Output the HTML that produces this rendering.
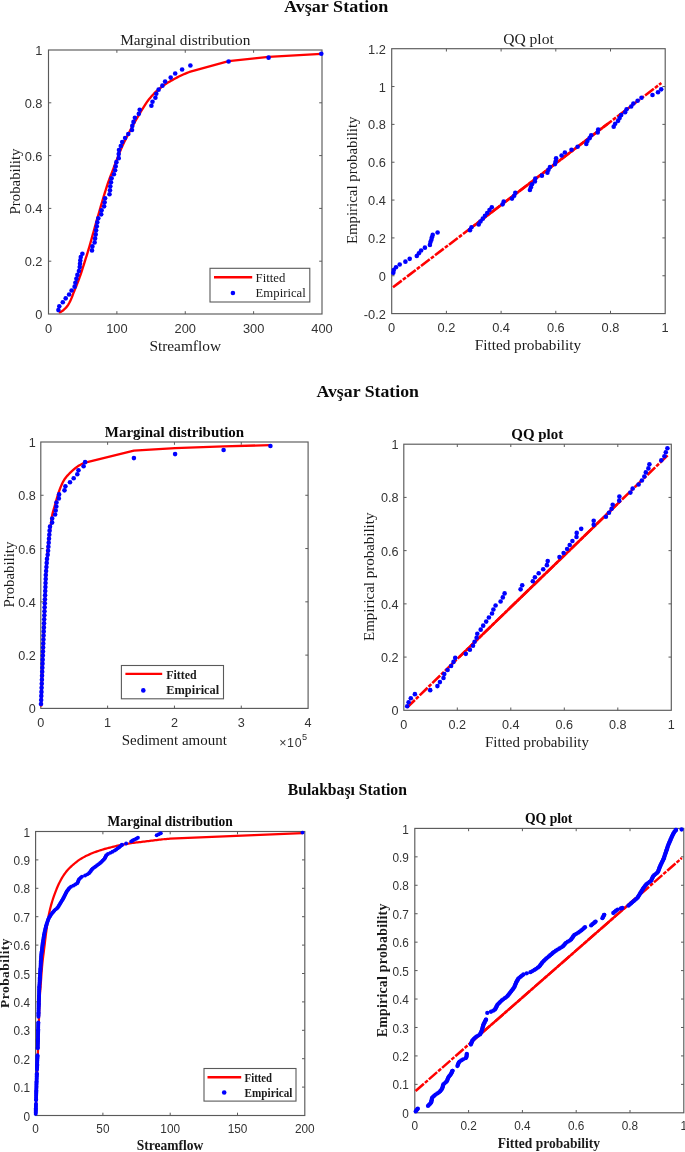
<!DOCTYPE html>
<html lang="tr">
<head>
<meta charset="utf-8">
<title>Marginal distributions and QQ plots – Avşar and Bulakbaşı stations</title>
<style>
html,body{margin:0;padding:0;background:#ffffff;}
body{width:685px;height:1152px;overflow:hidden;font-family:"Liberation Serif",serif;}
svg{display:block;}
text{white-space:pre;}
</style>
</head>
<body>
<svg width="685" height="1152" viewBox="0 0 685 1152">
<rect x="0" y="0" width="685" height="1152" fill="#ffffff"/>
<defs><filter id="soft" x="-2%" y="-2%" width="104%" height="104%" color-interpolation-filters="sRGB"><feGaussianBlur stdDeviation="0.42"/></filter></defs>
<g filter="url(#soft)">
<rect x="48.5" y="50" width="273.5" height="264" fill="#fff" stroke="#5a5a5a" stroke-width="1.15"/>
<text x="48.5" y="332.7" font-family='"Liberation Sans", sans-serif' font-size="12.3" text-anchor="middle" fill="#333333" textLength="7.14" lengthAdjust="spacingAndGlyphs">0</text>
<text x="116.88" y="332.7" font-family='"Liberation Sans", sans-serif' font-size="12.3" text-anchor="middle" fill="#333333" textLength="21.43" lengthAdjust="spacingAndGlyphs">100</text>
<text x="185.25" y="332.7" font-family='"Liberation Sans", sans-serif' font-size="12.3" text-anchor="middle" fill="#333333" textLength="21.43" lengthAdjust="spacingAndGlyphs">200</text>
<text x="253.62" y="332.7" font-family='"Liberation Sans", sans-serif' font-size="12.3" text-anchor="middle" fill="#333333" textLength="21.43" lengthAdjust="spacingAndGlyphs">300</text>
<text x="322" y="332.7" font-family='"Liberation Sans", sans-serif' font-size="12.3" text-anchor="middle" fill="#333333" textLength="21.43" lengthAdjust="spacingAndGlyphs">400</text>
<text x="42.5" y="319" font-family='"Liberation Sans", sans-serif' font-size="12.3" text-anchor="end" fill="#333333" textLength="7.14" lengthAdjust="spacingAndGlyphs">0</text>
<text x="42.5" y="266.2" font-family='"Liberation Sans", sans-serif' font-size="12.3" text-anchor="end" fill="#333333" textLength="17.85" lengthAdjust="spacingAndGlyphs">0.2</text>
<text x="42.5" y="213.4" font-family='"Liberation Sans", sans-serif' font-size="12.3" text-anchor="end" fill="#333333" textLength="17.85" lengthAdjust="spacingAndGlyphs">0.4</text>
<text x="42.5" y="160.6" font-family='"Liberation Sans", sans-serif' font-size="12.3" text-anchor="end" fill="#333333" textLength="17.85" lengthAdjust="spacingAndGlyphs">0.6</text>
<text x="42.5" y="107.8" font-family='"Liberation Sans", sans-serif' font-size="12.3" text-anchor="end" fill="#333333" textLength="17.85" lengthAdjust="spacingAndGlyphs">0.8</text>
<text x="42.5" y="55" font-family='"Liberation Sans", sans-serif' font-size="12.3" text-anchor="end" fill="#333333" textLength="7.14" lengthAdjust="spacingAndGlyphs">1</text>
<path d="M116.88 314v-2.8M116.88 50v2.8M185.25 314v-2.8M185.25 50v2.8M253.62 314v-2.8M253.62 50v2.8M48.5 261.2h2.8M322 261.2h-2.8M48.5 208.4h2.8M322 208.4h-2.8M48.5 155.6h2.8M322 155.6h-2.8M48.5 102.8h2.8M322 102.8h-2.8" stroke="#5a5a5a" stroke-width="1" fill="none"/>
<path d="M59 312.6L60.66 311.87L62.21 310.99L63.63 309.95L64.99 308.74L66.23 307.42L67.32 306.04L68.31 304.56L69.22 303L70.06 301.4L70.83 299.79L71.52 298.15L72.17 296.48L72.79 294.79L73.42 293.11L74.08 291.45L74.76 289.79L75.44 288.14L76.12 286.48L76.78 284.82L77.43 283.15L78.07 281.48L78.7 279.81L79.32 278.13L79.93 276.45L80.53 274.76L81.11 273.07L81.68 271.37L82.23 269.67L82.78 267.97L83.31 266.26L83.85 264.55L84.38 262.84L84.91 261.14L85.45 259.43L85.99 257.72L86.53 256.02L87.06 254.31L87.59 252.6L88.11 250.89L88.63 249.18L89.14 247.46L89.64 245.74L90.13 244.02L90.62 242.3L91.1 240.58L91.59 238.86L92.07 237.14L92.55 235.41L93.03 233.69L93.51 231.97L93.98 230.24L94.46 228.52L94.93 226.79L95.41 225.07L95.89 223.34L96.38 221.62L96.87 219.9L97.36 218.18L97.86 216.46L98.36 214.75L98.86 213.03L99.36 211.31L99.86 209.59L100.36 207.87L100.85 206.15L101.35 204.44L101.85 202.72L102.35 201L102.86 199.28L103.38 197.57L103.9 195.86L104.42 194.15L104.95 192.44L105.47 190.73L106.01 189.02L106.55 187.31L107.11 185.61L107.67 183.91L108.25 182.22L108.84 180.54L109.47 178.86L110.11 177.19L110.77 175.53L111.43 173.86L112.08 172.2L112.72 170.53L113.35 168.85L113.97 167.18L114.6 165.5L115.22 163.82L115.85 162.15L116.49 160.47L117.13 158.81L117.78 157.14L118.42 155.47L119.08 153.8L119.74 152.14L120.42 150.48L121.11 148.84L121.83 147.2L122.57 145.57L123.33 143.95L124.11 142.34L124.89 140.73L125.69 139.13L126.49 137.53L127.3 135.93L128.13 134.35L128.96 132.76L129.8 131.18L130.64 129.6L131.5 128.03L132.36 126.46L133.23 124.9L134.1 123.34L134.97 121.78L135.85 120.22L136.73 118.66L137.63 117.11L138.53 115.56L139.44 114.03L140.36 112.49L141.29 110.97L142.23 109.44L143.18 107.93L144.13 106.41L145.07 104.88L146.04 103.37L147.03 101.89L148.09 100.45L149.19 99.05L150.35 97.67L151.53 96.33L152.73 95L153.96 93.7L155.22 92.43L156.52 91.2L157.86 90.02L159.24 88.87L160.63 87.75L162.04 86.65L163.47 85.56L164.92 84.52L166.42 83.55L167.95 82.62L169.49 81.71L171.03 80.79L172.57 79.89L174.13 79.02L175.71 78.17L177.3 77.35L178.9 76.55L180.51 75.77L182.13 75.01L183.77 74.29L185.41 73.58L187.06 72.9L188.73 72.24L190.4 71.6L228.6 61.2L268.6 56.9L321.3 53.8" fill="none" stroke="#ff0000" stroke-width="2.35" stroke-linejoin="round"/>
<g fill="#0000ff"><circle cx="58.4" cy="310.1" r="2.3"/><circle cx="59.3" cy="306.19" r="2.3"/><circle cx="62.8" cy="302.28" r="2.3"/><circle cx="65.7" cy="298.37" r="2.3"/><circle cx="69.1" cy="294.46" r="2.3"/><circle cx="71.6" cy="290.55" r="2.3"/><circle cx="74.6" cy="286.65" r="2.3"/><circle cx="75.4" cy="282.74" r="2.3"/><circle cx="76.4" cy="278.83" r="2.3"/><circle cx="77.4" cy="274.92" r="2.3"/><circle cx="78.9" cy="271.01" r="2.3"/><circle cx="79.7" cy="267.1" r="2.3"/><circle cx="80" cy="263.76" r="2.3"/><circle cx="80.3" cy="260.42" r="2.3"/><circle cx="80.8" cy="257.08" r="2.3"/><circle cx="82.4" cy="253.74" r="2.3"/><circle cx="92" cy="250.4" r="2.3"/><circle cx="92.4" cy="246.39" r="2.3"/><circle cx="94.6" cy="242.39" r="2.3"/><circle cx="95.1" cy="238.38" r="2.3"/><circle cx="95.7" cy="234.38" r="2.3"/><circle cx="96.1" cy="230.37" r="2.3"/><circle cx="96.8" cy="226.36" r="2.3"/><circle cx="97.3" cy="222.36" r="2.3"/><circle cx="98.3" cy="218.35" r="2.3"/><circle cx="101.2" cy="214.35" r="2.3"/><circle cx="101.6" cy="210.34" r="2.3"/><circle cx="104.1" cy="206.34" r="2.3"/><circle cx="104.6" cy="202.33" r="2.3"/><circle cx="105.1" cy="198.32" r="2.3"/><circle cx="109.5" cy="194.32" r="2.3"/><circle cx="110" cy="190.31" r="2.3"/><circle cx="110.3" cy="186.31" r="2.3"/><circle cx="111" cy="182.3" r="2.3"/><circle cx="111.6" cy="178.27" r="2.3"/><circle cx="113.9" cy="174.24" r="2.3"/><circle cx="115.1" cy="170.22" r="2.3"/><circle cx="115.7" cy="166.19" r="2.3"/><circle cx="116.4" cy="162.16" r="2.3"/><circle cx="118.7" cy="158.13" r="2.3"/><circle cx="118.7" cy="154.11" r="2.3"/><circle cx="119" cy="150.08" r="2.3"/><circle cx="120.8" cy="146.05" r="2.3"/><circle cx="122.2" cy="142.02" r="2.3"/><circle cx="125.1" cy="138" r="2.3"/><circle cx="128.3" cy="133.97" r="2.3"/><circle cx="132" cy="129.94" r="2.3"/><circle cx="132.3" cy="125.91" r="2.3"/><circle cx="133.5" cy="121.89" r="2.3"/><circle cx="134.9" cy="117.86" r="2.3"/><circle cx="138.8" cy="113.83" r="2.3"/><circle cx="139.7" cy="109.8" r="2.3"/><circle cx="151.4" cy="105.78" r="2.3"/><circle cx="152.5" cy="101.75" r="2.3"/><circle cx="155.4" cy="97.72" r="2.3"/><circle cx="156.3" cy="93.69" r="2.3"/><circle cx="158.6" cy="89.67" r="2.3"/><circle cx="162.4" cy="85.64" r="2.3"/><circle cx="165.1" cy="81.61" r="2.3"/><circle cx="170.7" cy="77.58" r="2.3"/><circle cx="175.2" cy="73.56" r="2.3"/><circle cx="182.1" cy="69.53" r="2.3"/><circle cx="190.4" cy="65.5" r="2.3"/><circle cx="228.6" cy="61.57" r="2.3"/><circle cx="268.6" cy="57.63" r="2.3"/><circle cx="321.3" cy="53.7" r="2.3"/></g>
<rect x="210" y="268.3" width="99.8" height="33.7" fill="#fff" stroke="#5a5a5a" stroke-width="1.1"/>
<path d="M214 277.2H252.2" stroke="#ff0000" stroke-width="2.35"/>
<circle cx="232.9" cy="293" r="2.3" fill="#0000ff"/>
<text x="255.6" y="281.9" font-family='"Liberation Serif", serif' font-size="12.7" text-anchor="start" fill="#1a1a1a" textLength="29.8" lengthAdjust="spacingAndGlyphs">Fitted</text>
<text x="255.6" y="297.2" font-family='"Liberation Serif", serif' font-size="12.7" text-anchor="start" fill="#1a1a1a" textLength="50.2" lengthAdjust="spacingAndGlyphs">Empirical</text>
<text x="185.3" y="44.9" font-family='"Liberation Serif", serif' font-size="15.2" text-anchor="middle" fill="#1c1c1c" textLength="130.2" lengthAdjust="spacingAndGlyphs">Marginal distribution</text>
<text x="185.2" y="350.8" font-family='"Liberation Serif", serif' font-size="15.2" text-anchor="middle" fill="#1a1a1a" textLength="71.6" lengthAdjust="spacingAndGlyphs">Streamflow</text>
<text x="0" y="0" transform="translate(20.3 181.5) rotate(-90)" font-family='"Liberation Serif", serif' font-size="15" text-anchor="middle" fill="#1a1a1a" textLength="65.8" lengthAdjust="spacingAndGlyphs">Probability</text>
<rect x="391.7" y="48.7" width="273.5" height="264.9" fill="#fff" stroke="#5a5a5a" stroke-width="1.15"/>
<text x="391.7" y="331.6" font-family='"Liberation Sans", sans-serif' font-size="12.3" text-anchor="middle" fill="#333333" textLength="7.14" lengthAdjust="spacingAndGlyphs">0</text>
<text x="446.4" y="331.6" font-family='"Liberation Sans", sans-serif' font-size="12.3" text-anchor="middle" fill="#333333" textLength="17.85" lengthAdjust="spacingAndGlyphs">0.2</text>
<text x="501.1" y="331.6" font-family='"Liberation Sans", sans-serif' font-size="12.3" text-anchor="middle" fill="#333333" textLength="17.85" lengthAdjust="spacingAndGlyphs">0.4</text>
<text x="555.8" y="331.6" font-family='"Liberation Sans", sans-serif' font-size="12.3" text-anchor="middle" fill="#333333" textLength="17.85" lengthAdjust="spacingAndGlyphs">0.6</text>
<text x="610.5" y="331.6" font-family='"Liberation Sans", sans-serif' font-size="12.3" text-anchor="middle" fill="#333333" textLength="17.85" lengthAdjust="spacingAndGlyphs">0.8</text>
<text x="665.2" y="331.6" font-family='"Liberation Sans", sans-serif' font-size="12.3" text-anchor="middle" fill="#333333" textLength="7.14" lengthAdjust="spacingAndGlyphs">1</text>
<text x="385.9" y="318.6" font-family='"Liberation Sans", sans-serif' font-size="12.3" text-anchor="end" fill="#333333" textLength="22.13" lengthAdjust="spacingAndGlyphs">-0.2</text>
<text x="385.9" y="280.76" font-family='"Liberation Sans", sans-serif' font-size="12.3" text-anchor="end" fill="#333333" textLength="7.14" lengthAdjust="spacingAndGlyphs">0</text>
<text x="385.9" y="242.92" font-family='"Liberation Sans", sans-serif' font-size="12.3" text-anchor="end" fill="#333333" textLength="17.85" lengthAdjust="spacingAndGlyphs">0.2</text>
<text x="385.9" y="205.07" font-family='"Liberation Sans", sans-serif' font-size="12.3" text-anchor="end" fill="#333333" textLength="17.85" lengthAdjust="spacingAndGlyphs">0.4</text>
<text x="385.9" y="167.23" font-family='"Liberation Sans", sans-serif' font-size="12.3" text-anchor="end" fill="#333333" textLength="17.85" lengthAdjust="spacingAndGlyphs">0.6</text>
<text x="385.9" y="129.39" font-family='"Liberation Sans", sans-serif' font-size="12.3" text-anchor="end" fill="#333333" textLength="17.85" lengthAdjust="spacingAndGlyphs">0.8</text>
<text x="385.9" y="91.55" font-family='"Liberation Sans", sans-serif' font-size="12.3" text-anchor="end" fill="#333333" textLength="7.14" lengthAdjust="spacingAndGlyphs">1</text>
<text x="385.9" y="53.7" font-family='"Liberation Sans", sans-serif' font-size="12.3" text-anchor="end" fill="#333333" textLength="17.85" lengthAdjust="spacingAndGlyphs">1.2</text>
<path d="M446.4 313.6v-2.8M446.4 48.7v2.8M501.1 313.6v-2.8M501.1 48.7v2.8M555.8 313.6v-2.8M555.8 48.7v2.8M610.5 313.6v-2.8M610.5 48.7v2.8M391.7 275.76h2.8M665.2 275.76h-2.8M391.7 237.91h2.8M665.2 237.91h-2.8M391.7 200.07h2.8M665.2 200.07h-2.8M391.7 162.23h2.8M665.2 162.23h-2.8M391.7 124.39h2.8M665.2 124.39h-2.8M391.7 86.54h2.8M665.2 86.54h-2.8" stroke="#5a5a5a" stroke-width="1" fill="none"/>
<path d="M393 287.3L661.4 83" fill="none" stroke="#ff0000" stroke-width="2.6" stroke-linejoin="round" stroke-dasharray="11 1.4 3.8 1.4"/>
<path d="M473.52 226.01L607.72 123.86" fill="none" stroke="#ff0000" stroke-width="2.55" stroke-linejoin="round"/>
<g fill="#0000ff"><circle cx="393.3" cy="272.85" r="2.3"/><circle cx="393.8" cy="270.06" r="2.3"/><circle cx="396" cy="267.26" r="2.3"/><circle cx="399.7" cy="264.46" r="2.3"/><circle cx="405.4" cy="261.66" r="2.3"/><circle cx="409.7" cy="258.87" r="2.3"/><circle cx="416.8" cy="256.07" r="2.3"/><circle cx="418.9" cy="253.27" r="2.3"/><circle cx="421.1" cy="250.47" r="2.3"/><circle cx="424.9" cy="247.67" r="2.3"/><circle cx="429.9" cy="244.88" r="2.3"/><circle cx="430.5" cy="242.08" r="2.3"/><circle cx="431.4" cy="239.69" r="2.3"/><circle cx="431.9" cy="237.3" r="2.3"/><circle cx="432.7" cy="234.91" r="2.3"/><circle cx="437.6" cy="232.52" r="2.3"/><circle cx="470" cy="230.13" r="2.3"/><circle cx="471.5" cy="227.26" r="2.3"/><circle cx="478.7" cy="224.4" r="2.3"/><circle cx="480.5" cy="221.53" r="2.3"/><circle cx="482.8" cy="218.66" r="2.3"/><circle cx="485" cy="215.79" r="2.3"/><circle cx="487.2" cy="212.93" r="2.3"/><circle cx="489.5" cy="210.06" r="2.3"/><circle cx="491.8" cy="207.19" r="2.3"/><circle cx="502.6" cy="204.33" r="2.3"/><circle cx="503.7" cy="201.46" r="2.3"/><circle cx="512" cy="198.59" r="2.3"/><circle cx="514.2" cy="195.73" r="2.3"/><circle cx="515.3" cy="192.86" r="2.3"/><circle cx="529.9" cy="189.99" r="2.3"/><circle cx="530.9" cy="187.13" r="2.3"/><circle cx="532" cy="184.26" r="2.3"/><circle cx="534.9" cy="181.39" r="2.3"/><circle cx="535.3" cy="178.51" r="2.3"/><circle cx="541.9" cy="175.63" r="2.3"/><circle cx="547.4" cy="172.75" r="2.3"/><circle cx="548.5" cy="169.86" r="2.3"/><circle cx="550" cy="166.98" r="2.3"/><circle cx="555" cy="164.1" r="2.3"/><circle cx="555.7" cy="161.22" r="2.3"/><circle cx="556.1" cy="158.34" r="2.3"/><circle cx="561.6" cy="155.45" r="2.3"/><circle cx="564.9" cy="152.57" r="2.3"/><circle cx="571.5" cy="149.69" r="2.3"/><circle cx="577.6" cy="146.81" r="2.3"/><circle cx="586.3" cy="143.92" r="2.3"/><circle cx="587.4" cy="141.04" r="2.3"/><circle cx="589.6" cy="138.16" r="2.3"/><circle cx="591.2" cy="135.28" r="2.3"/><circle cx="597.7" cy="132.39" r="2.3"/><circle cx="598.2" cy="129.51" r="2.3"/><circle cx="613.7" cy="126.63" r="2.3"/><circle cx="615.2" cy="123.75" r="2.3"/><circle cx="618.1" cy="120.87" r="2.3"/><circle cx="619.6" cy="117.98" r="2.3"/><circle cx="621.2" cy="115.1" r="2.3"/><circle cx="625.1" cy="112.22" r="2.3"/><circle cx="626.6" cy="109.34" r="2.3"/><circle cx="631.2" cy="106.45" r="2.3"/><circle cx="633.4" cy="103.57" r="2.3"/><circle cx="637.6" cy="100.69" r="2.3"/><circle cx="641.5" cy="97.81" r="2.3"/><circle cx="652.5" cy="94.99" r="2.3"/><circle cx="658" cy="92.18" r="2.3"/><circle cx="661.2" cy="89.36" r="2.3"/></g>
<text x="528.5" y="43.8" font-family='"Liberation Serif", serif' font-size="15.2" text-anchor="middle" fill="#1c1c1c" textLength="50.6" lengthAdjust="spacingAndGlyphs">QQ plot</text>
<text x="527.9" y="349.8" font-family='"Liberation Serif", serif' font-size="15.2" text-anchor="middle" fill="#1a1a1a" textLength="106.4" lengthAdjust="spacingAndGlyphs">Fitted probability</text>
<text x="0" y="0" transform="translate(357.4 180.3) rotate(-90)" font-family='"Liberation Serif", serif' font-size="15" text-anchor="middle" fill="#1a1a1a" textLength="127.6" lengthAdjust="spacingAndGlyphs">Empirical probability</text>
<rect x="40.8" y="442" width="267.3" height="266.4" fill="#fff" stroke="#5a5a5a" stroke-width="1.15"/>
<text x="40.8" y="726.9" font-family='"Liberation Sans", sans-serif' font-size="12.3" text-anchor="middle" fill="#333333" textLength="7.03" lengthAdjust="spacingAndGlyphs">0</text>
<text x="107.62" y="726.9" font-family='"Liberation Sans", sans-serif' font-size="12.3" text-anchor="middle" fill="#333333" textLength="7.03" lengthAdjust="spacingAndGlyphs">1</text>
<text x="174.45" y="726.9" font-family='"Liberation Sans", sans-serif' font-size="12.3" text-anchor="middle" fill="#333333" textLength="7.03" lengthAdjust="spacingAndGlyphs">2</text>
<text x="241.28" y="726.9" font-family='"Liberation Sans", sans-serif' font-size="12.3" text-anchor="middle" fill="#333333" textLength="7.03" lengthAdjust="spacingAndGlyphs">3</text>
<text x="308.1" y="726.9" font-family='"Liberation Sans", sans-serif' font-size="12.3" text-anchor="middle" fill="#333333" textLength="7.03" lengthAdjust="spacingAndGlyphs">4</text>
<text x="35.8" y="713.4" font-family='"Liberation Sans", sans-serif' font-size="12.3" text-anchor="end" fill="#333333" textLength="7.03" lengthAdjust="spacingAndGlyphs">0</text>
<text x="35.8" y="660.12" font-family='"Liberation Sans", sans-serif' font-size="12.3" text-anchor="end" fill="#333333" textLength="17.58" lengthAdjust="spacingAndGlyphs">0.2</text>
<text x="35.8" y="606.84" font-family='"Liberation Sans", sans-serif' font-size="12.3" text-anchor="end" fill="#333333" textLength="17.58" lengthAdjust="spacingAndGlyphs">0.4</text>
<text x="35.8" y="553.56" font-family='"Liberation Sans", sans-serif' font-size="12.3" text-anchor="end" fill="#333333" textLength="17.58" lengthAdjust="spacingAndGlyphs">0.6</text>
<text x="35.8" y="500.28" font-family='"Liberation Sans", sans-serif' font-size="12.3" text-anchor="end" fill="#333333" textLength="17.58" lengthAdjust="spacingAndGlyphs">0.8</text>
<text x="35.8" y="447" font-family='"Liberation Sans", sans-serif' font-size="12.3" text-anchor="end" fill="#333333" textLength="7.03" lengthAdjust="spacingAndGlyphs">1</text>
<path d="M107.62 708.4v-2.8M107.62 442v2.8M174.45 708.4v-2.8M174.45 442v2.8M241.28 708.4v-2.8M241.28 442v2.8M40.8 655.12h2.8M308.1 655.12h-2.8M40.8 601.84h2.8M308.1 601.84h-2.8M40.8 548.56h2.8M308.1 548.56h-2.8M40.8 495.28h2.8M308.1 495.28h-2.8" stroke="#5a5a5a" stroke-width="1" fill="none"/>
<path d="M41.1 706.5L41.16 704.65L41.22 702.81L41.28 700.96L41.34 699.12L41.41 697.27L41.47 695.42L41.53 693.58L41.59 691.73L41.66 689.89L41.72 688.04L41.78 686.2L41.85 684.35L41.91 682.5L41.98 680.66L42.04 678.81L42.11 676.97L42.17 675.12L42.24 673.28L42.31 671.43L42.38 669.58L42.44 667.74L42.51 665.89L42.58 664.05L42.65 662.2L42.72 660.36L42.78 658.51L42.85 656.66L42.92 654.82L42.99 652.97L43.06 651.13L43.13 649.28L43.19 647.44L43.26 645.59L43.33 643.75L43.4 641.9L43.47 640.05L43.53 638.21L43.6 636.36L43.67 634.52L43.74 632.67L43.8 630.83L43.87 628.98L43.94 627.13L44.01 625.29L44.08 623.44L44.15 621.6L44.22 619.75L44.29 617.91L44.36 616.06L44.43 614.22L44.5 612.37L44.57 610.52L44.64 608.68L44.71 606.83L44.78 604.99L44.85 603.14L44.92 601.3L44.99 599.45L45.06 597.6L45.14 595.76L45.21 593.91L45.29 592.07L45.37 590.22L45.45 588.38L45.53 586.53L45.61 584.69L45.7 582.84L45.79 581L45.88 579.15L45.97 577.31L46.07 575.47L46.16 573.62L46.26 571.78L46.37 569.93L46.47 568.09L46.58 566.24L46.69 564.4L46.8 562.56L46.92 560.71L47.04 558.87L47.17 557.03L47.29 555.19L47.43 553.34L47.56 551.5L47.71 549.66L47.86 547.82L48.01 545.98L48.18 544.14L48.36 542.3L48.55 540.46L48.76 538.63L49.01 536.8L49.28 534.97L49.56 533.15L49.85 531.32L50.14 529.5L50.4 527.67L50.65 525.84L50.89 524L51.13 522.17L51.38 520.33L51.65 518.51L51.95 516.69L52.28 514.88L52.68 513.09L53.14 511.3L53.64 509.52L54.17 507.74L54.7 505.97L55.23 504.2L55.73 502.42L56.23 500.64L56.73 498.86L57.23 497.08L57.75 495.3L58.29 493.54L58.87 491.79L59.48 490.05L60.13 488.32L60.82 486.6L61.56 484.91L62.34 483.23L63.19 481.57L64.1 479.97L65.12 478.46L66.24 477L67.44 475.59L68.72 474.23L70.03 472.9L71.36 471.63L72.72 470.38L74.11 469.15L75.56 467.97L77.04 466.86L78.57 465.84L80.14 464.92L81.78 464.07L83.47 463.3L85.2 462.6L133.9 450.7L175.1 448.1L223.6 446.3L270.4 445.2" fill="none" stroke="#ff0000" stroke-width="2.35" stroke-linejoin="round"/>
<g fill="#0000ff"><circle cx="41" cy="703.97" r="2.3"/><circle cx="41.15" cy="699.94" r="2.3"/><circle cx="41.3" cy="695.91" r="2.3"/><circle cx="41.45" cy="691.88" r="2.3"/><circle cx="41.61" cy="687.85" r="2.3"/><circle cx="41.76" cy="683.82" r="2.3"/><circle cx="41.91" cy="679.79" r="2.3"/><circle cx="42.06" cy="675.76" r="2.3"/><circle cx="42.21" cy="671.73" r="2.3"/><circle cx="42.36" cy="667.7" r="2.3"/><circle cx="42.52" cy="663.67" r="2.3"/><circle cx="42.67" cy="659.64" r="2.3"/><circle cx="42.82" cy="655.61" r="2.3"/><circle cx="42.97" cy="651.58" r="2.3"/><circle cx="43.12" cy="647.55" r="2.3"/><circle cx="43.27" cy="643.52" r="2.3"/><circle cx="43.43" cy="639.48" r="2.3"/><circle cx="43.58" cy="635.45" r="2.3"/><circle cx="43.73" cy="631.42" r="2.3"/><circle cx="43.88" cy="627.39" r="2.3"/><circle cx="44.03" cy="623.36" r="2.3"/><circle cx="44.18" cy="619.33" r="2.3"/><circle cx="44.34" cy="615.3" r="2.3"/><circle cx="44.49" cy="611.27" r="2.3"/><circle cx="44.64" cy="607.24" r="2.3"/><circle cx="44.79" cy="603.21" r="2.3"/><circle cx="44.94" cy="599.18" r="2.3"/><circle cx="45.09" cy="595.15" r="2.3"/><circle cx="45.25" cy="591.12" r="2.3"/><circle cx="45.4" cy="587.09" r="2.3"/><circle cx="45.55" cy="583.06" r="2.3"/><circle cx="45.7" cy="579.03" r="2.3"/><circle cx="45.8" cy="575" r="2.3"/><circle cx="46.1" cy="570.97" r="2.3"/><circle cx="46.4" cy="566.94" r="2.3"/><circle cx="46.7" cy="562.91" r="2.3"/><circle cx="47" cy="558.88" r="2.3"/><circle cx="47.7" cy="554.85" r="2.3"/><circle cx="48.1" cy="550.82" r="2.3"/><circle cx="48.4" cy="546.79" r="2.3"/><circle cx="48.7" cy="542.76" r="2.3"/><circle cx="49" cy="538.73" r="2.3"/><circle cx="49.3" cy="534.7" r="2.3"/><circle cx="49.6" cy="530.67" r="2.3"/><circle cx="50" cy="526.64" r="2.3"/><circle cx="52.1" cy="522.61" r="2.3"/><circle cx="52.2" cy="518.58" r="2.3"/><circle cx="55.1" cy="514.55" r="2.3"/><circle cx="55.7" cy="510.52" r="2.3"/><circle cx="56.3" cy="506.48" r="2.3"/><circle cx="56.5" cy="502.45" r="2.3"/><circle cx="58.8" cy="498.42" r="2.3"/><circle cx="59.1" cy="494.39" r="2.3"/><circle cx="64.5" cy="490.36" r="2.3"/><circle cx="65.4" cy="486.33" r="2.3"/><circle cx="70" cy="482.3" r="2.3"/><circle cx="73.7" cy="478.27" r="2.3"/><circle cx="77.3" cy="474.24" r="2.3"/><circle cx="78.5" cy="470.21" r="2.3"/><circle cx="83.6" cy="466.18" r="2.3"/><circle cx="85.1" cy="462.15" r="2.3"/><circle cx="133.9" cy="458.12" r="2.3"/><circle cx="175.1" cy="454.09" r="2.3"/><circle cx="223.6" cy="450.06" r="2.3"/><circle cx="270.4" cy="446.03" r="2.3"/></g>
<rect x="121.4" y="665.5" width="102.1" height="33.3" fill="#fff" stroke="#5a5a5a" stroke-width="1.1"/>
<path d="M125.4 673.9H162.2" stroke="#ff0000" stroke-width="2.35"/>
<circle cx="143.3" cy="690.4" r="2.3" fill="#0000ff"/>
<text x="166.3" y="678.6" font-family='"Liberation Serif", serif' font-size="12.2" font-weight="bold" text-anchor="start" fill="#1a1a1a" textLength="30.4" lengthAdjust="spacingAndGlyphs">Fitted</text>
<text x="166.3" y="693.8" font-family='"Liberation Serif", serif' font-size="12.2" font-weight="bold" text-anchor="start" fill="#1a1a1a" textLength="52.9" lengthAdjust="spacingAndGlyphs">Empirical</text>
<text x="174.5" y="436.7" font-family='"Liberation Serif", serif' font-size="15" font-weight="bold" text-anchor="middle" fill="#0a0a0a" textLength="139.4" lengthAdjust="spacingAndGlyphs">Marginal distribution</text>
<text x="174.3" y="745.1" font-family='"Liberation Serif", serif' font-size="15" text-anchor="middle" fill="#1a1a1a" textLength="105.2" lengthAdjust="spacingAndGlyphs">Sediment amount</text>
<text x="0" y="0" transform="translate(13.6 574.6) rotate(-90)" font-family='"Liberation Serif", serif' font-size="15" text-anchor="middle" fill="#1a1a1a" textLength="65.8" lengthAdjust="spacingAndGlyphs">Probability</text>
<text x="279.2" y="747.4" font-family='"Liberation Sans", sans-serif' font-size="12.4" fill="#333333" textLength="22.4" lengthAdjust="spacing">×10</text>
<text x="302.0" y="740.0" font-family='"Liberation Sans", sans-serif' font-size="9.2" fill="#333333">5</text>
<rect x="403.8" y="444.2" width="267.5" height="266.1" fill="#fff" stroke="#5a5a5a" stroke-width="1.15"/>
<text x="403.8" y="728.5" font-family='"Liberation Sans", sans-serif' font-size="12.3" text-anchor="middle" fill="#333333" textLength="7.03" lengthAdjust="spacingAndGlyphs">0</text>
<text x="457.3" y="728.5" font-family='"Liberation Sans", sans-serif' font-size="12.3" text-anchor="middle" fill="#333333" textLength="17.58" lengthAdjust="spacingAndGlyphs">0.2</text>
<text x="510.8" y="728.5" font-family='"Liberation Sans", sans-serif' font-size="12.3" text-anchor="middle" fill="#333333" textLength="17.58" lengthAdjust="spacingAndGlyphs">0.4</text>
<text x="564.3" y="728.5" font-family='"Liberation Sans", sans-serif' font-size="12.3" text-anchor="middle" fill="#333333" textLength="17.58" lengthAdjust="spacingAndGlyphs">0.6</text>
<text x="617.8" y="728.5" font-family='"Liberation Sans", sans-serif' font-size="12.3" text-anchor="middle" fill="#333333" textLength="17.58" lengthAdjust="spacingAndGlyphs">0.8</text>
<text x="671.3" y="728.5" font-family='"Liberation Sans", sans-serif' font-size="12.3" text-anchor="middle" fill="#333333" textLength="7.03" lengthAdjust="spacingAndGlyphs">1</text>
<text x="398.6" y="715.3" font-family='"Liberation Sans", sans-serif' font-size="12.3" text-anchor="end" fill="#333333" textLength="7.03" lengthAdjust="spacingAndGlyphs">0</text>
<text x="398.6" y="662.08" font-family='"Liberation Sans", sans-serif' font-size="12.3" text-anchor="end" fill="#333333" textLength="17.58" lengthAdjust="spacingAndGlyphs">0.2</text>
<text x="398.6" y="608.86" font-family='"Liberation Sans", sans-serif' font-size="12.3" text-anchor="end" fill="#333333" textLength="17.58" lengthAdjust="spacingAndGlyphs">0.4</text>
<text x="398.6" y="555.64" font-family='"Liberation Sans", sans-serif' font-size="12.3" text-anchor="end" fill="#333333" textLength="17.58" lengthAdjust="spacingAndGlyphs">0.6</text>
<text x="398.6" y="502.42" font-family='"Liberation Sans", sans-serif' font-size="12.3" text-anchor="end" fill="#333333" textLength="17.58" lengthAdjust="spacingAndGlyphs">0.8</text>
<text x="398.6" y="449.2" font-family='"Liberation Sans", sans-serif' font-size="12.3" text-anchor="end" fill="#333333" textLength="7.03" lengthAdjust="spacingAndGlyphs">1</text>
<path d="M457.3 710.3v-2.8M457.3 444.2v2.8M510.8 710.3v-2.8M510.8 444.2v2.8M564.3 710.3v-2.8M564.3 444.2v2.8M617.8 710.3v-2.8M617.8 444.2v2.8M403.8 657.08h2.8M671.3 657.08h-2.8M403.8 603.86h2.8M671.3 603.86h-2.8M403.8 550.64h2.8M671.3 550.64h-2.8M403.8 497.42h2.8M671.3 497.42h-2.8" stroke="#5a5a5a" stroke-width="1" fill="none"/>
<path d="M407 707.6L667.6 455.4" fill="none" stroke="#ff0000" stroke-width="2.6" stroke-linejoin="round" stroke-dasharray="11 1.4 3.8 1.4"/>
<path d="M459.12 657.16L620.69 500.8" fill="none" stroke="#ff0000" stroke-width="2.55" stroke-linejoin="round"/>
<g fill="#0000ff"><circle cx="407.2" cy="706.27" r="2.3"/><circle cx="408.6" cy="702.24" r="2.3"/><circle cx="410.8" cy="698.2" r="2.3"/><circle cx="414.9" cy="694.17" r="2.3"/><circle cx="430.2" cy="690.14" r="2.3"/><circle cx="437.4" cy="686.11" r="2.3"/><circle cx="439.9" cy="682.08" r="2.3"/><circle cx="443.5" cy="678.05" r="2.3"/><circle cx="444.3" cy="674.01" r="2.3"/><circle cx="447.6" cy="669.98" r="2.3"/><circle cx="451.1" cy="665.95" r="2.3"/><circle cx="453.5" cy="661.92" r="2.3"/><circle cx="455.2" cy="657.89" r="2.3"/><circle cx="465.8" cy="653.85" r="2.3"/><circle cx="469.9" cy="649.82" r="2.3"/><circle cx="473" cy="645.79" r="2.3"/><circle cx="474.6" cy="641.76" r="2.3"/><circle cx="476.6" cy="637.73" r="2.3"/><circle cx="477.3" cy="633.7" r="2.3"/><circle cx="480.7" cy="629.66" r="2.3"/><circle cx="483.2" cy="625.63" r="2.3"/><circle cx="486.2" cy="621.6" r="2.3"/><circle cx="488.9" cy="617.57" r="2.3"/><circle cx="492" cy="613.54" r="2.3"/><circle cx="493.4" cy="609.5" r="2.3"/><circle cx="495.6" cy="605.47" r="2.3"/><circle cx="500.6" cy="601.44" r="2.3"/><circle cx="502.8" cy="597.41" r="2.3"/><circle cx="504.6" cy="593.38" r="2.3"/><circle cx="520.6" cy="589.35" r="2.3"/><circle cx="522.2" cy="585.31" r="2.3"/><circle cx="532.8" cy="581.28" r="2.3"/><circle cx="534.9" cy="577.25" r="2.3"/><circle cx="538.7" cy="573.22" r="2.3"/><circle cx="543.2" cy="569.19" r="2.3"/><circle cx="546.9" cy="565.15" r="2.3"/><circle cx="547.7" cy="561.12" r="2.3"/><circle cx="559.5" cy="557.09" r="2.3"/><circle cx="563.6" cy="553.06" r="2.3"/><circle cx="567.1" cy="549.03" r="2.3"/><circle cx="569.7" cy="545" r="2.3"/><circle cx="572.4" cy="540.96" r="2.3"/><circle cx="576.5" cy="536.93" r="2.3"/><circle cx="576.7" cy="532.9" r="2.3"/><circle cx="581.2" cy="528.87" r="2.3"/><circle cx="593.7" cy="524.84" r="2.3"/><circle cx="593.7" cy="520.8" r="2.3"/><circle cx="605.9" cy="516.77" r="2.3"/><circle cx="609" cy="512.74" r="2.3"/><circle cx="611.6" cy="508.71" r="2.3"/><circle cx="612.7" cy="504.68" r="2.3"/><circle cx="619.2" cy="500.65" r="2.3"/><circle cx="619.4" cy="496.61" r="2.3"/><circle cx="630.4" cy="492.58" r="2.3"/><circle cx="632.7" cy="488.55" r="2.3"/><circle cx="638.6" cy="484.52" r="2.3"/><circle cx="641.9" cy="480.49" r="2.3"/><circle cx="644.3" cy="476.45" r="2.3"/><circle cx="645.8" cy="472.42" r="2.3"/><circle cx="648.4" cy="468.39" r="2.3"/><circle cx="649.4" cy="464.36" r="2.3"/><circle cx="661.3" cy="460.33" r="2.3"/><circle cx="664.4" cy="456.3" r="2.3"/><circle cx="665.8" cy="452.26" r="2.3"/><circle cx="667.4" cy="448.23" r="2.3"/></g>
<text x="537.2" y="439" font-family='"Liberation Serif", serif' font-size="15" font-weight="bold" text-anchor="middle" fill="#0a0a0a" textLength="51.8" lengthAdjust="spacingAndGlyphs">QQ plot</text>
<text x="537" y="746.8" font-family='"Liberation Serif", serif' font-size="15" text-anchor="middle" fill="#1a1a1a" textLength="103.8" lengthAdjust="spacingAndGlyphs">Fitted probability</text>
<text x="0" y="0" transform="translate(374.3 576.8) rotate(-90)" font-family='"Liberation Serif", serif' font-size="15" text-anchor="middle" fill="#1a1a1a" textLength="128.4" lengthAdjust="spacingAndGlyphs">Empirical probability</text>
<rect x="35.6" y="831.5" width="269.2" height="284" fill="#fff" stroke="#5a5a5a" stroke-width="1.15"/>
<text x="35.6" y="1133.1" font-family='"Liberation Sans", sans-serif' font-size="12.6" text-anchor="middle" fill="#333333" textLength="6.57" lengthAdjust="spacingAndGlyphs">0</text>
<text x="102.9" y="1133.1" font-family='"Liberation Sans", sans-serif' font-size="12.6" text-anchor="middle" fill="#333333" textLength="13.13" lengthAdjust="spacingAndGlyphs">50</text>
<text x="170.2" y="1133.1" font-family='"Liberation Sans", sans-serif' font-size="12.6" text-anchor="middle" fill="#333333" textLength="19.7" lengthAdjust="spacingAndGlyphs">100</text>
<text x="237.5" y="1133.1" font-family='"Liberation Sans", sans-serif' font-size="12.6" text-anchor="middle" fill="#333333" textLength="19.7" lengthAdjust="spacingAndGlyphs">150</text>
<text x="304.8" y="1133.1" font-family='"Liberation Sans", sans-serif' font-size="12.6" text-anchor="middle" fill="#333333" textLength="19.7" lengthAdjust="spacingAndGlyphs">200</text>
<text x="30" y="1120.61" font-family='"Liberation Sans", sans-serif' font-size="12.6" text-anchor="end" fill="#333333" textLength="6.57" lengthAdjust="spacingAndGlyphs">0</text>
<text x="30" y="1092.21" font-family='"Liberation Sans", sans-serif' font-size="12.6" text-anchor="end" fill="#333333" textLength="16.41" lengthAdjust="spacingAndGlyphs">0.1</text>
<text x="30" y="1063.81" font-family='"Liberation Sans", sans-serif' font-size="12.6" text-anchor="end" fill="#333333" textLength="16.41" lengthAdjust="spacingAndGlyphs">0.2</text>
<text x="30" y="1035.41" font-family='"Liberation Sans", sans-serif' font-size="12.6" text-anchor="end" fill="#333333" textLength="16.41" lengthAdjust="spacingAndGlyphs">0.3</text>
<text x="30" y="1007.01" font-family='"Liberation Sans", sans-serif' font-size="12.6" text-anchor="end" fill="#333333" textLength="16.41" lengthAdjust="spacingAndGlyphs">0.4</text>
<text x="30" y="978.61" font-family='"Liberation Sans", sans-serif' font-size="12.6" text-anchor="end" fill="#333333" textLength="16.41" lengthAdjust="spacingAndGlyphs">0.5</text>
<text x="30" y="950.21" font-family='"Liberation Sans", sans-serif' font-size="12.6" text-anchor="end" fill="#333333" textLength="16.41" lengthAdjust="spacingAndGlyphs">0.6</text>
<text x="30" y="921.81" font-family='"Liberation Sans", sans-serif' font-size="12.6" text-anchor="end" fill="#333333" textLength="16.41" lengthAdjust="spacingAndGlyphs">0.7</text>
<text x="30" y="893.41" font-family='"Liberation Sans", sans-serif' font-size="12.6" text-anchor="end" fill="#333333" textLength="16.41" lengthAdjust="spacingAndGlyphs">0.8</text>
<text x="30" y="865.01" font-family='"Liberation Sans", sans-serif' font-size="12.6" text-anchor="end" fill="#333333" textLength="16.41" lengthAdjust="spacingAndGlyphs">0.9</text>
<text x="30" y="836.61" font-family='"Liberation Sans", sans-serif' font-size="12.6" text-anchor="end" fill="#333333" textLength="6.57" lengthAdjust="spacingAndGlyphs">1</text>
<path d="M102.9 1115.5v-2.8M102.9 831.5v2.8M170.2 1115.5v-2.8M170.2 831.5v2.8M237.5 1115.5v-2.8M237.5 831.5v2.8M35.6 1087.1h2.8M304.8 1087.1h-2.8M35.6 1058.7h2.8M304.8 1058.7h-2.8M35.6 1030.3h2.8M304.8 1030.3h-2.8M35.6 1001.9h2.8M304.8 1001.9h-2.8M35.6 973.5h2.8M304.8 973.5h-2.8M35.6 945.1h2.8M304.8 945.1h-2.8M35.6 916.7h2.8M304.8 916.7h-2.8M35.6 888.3h2.8M304.8 888.3h-2.8M35.6 859.9h2.8M304.8 859.9h-2.8" stroke="#5a5a5a" stroke-width="1" fill="none"/>
<path d="M35.9 1114L35.97 1110.65L36.04 1107.3L36.11 1103.96L36.2 1100.61L36.28 1097.26L36.37 1093.91L36.47 1090.57L36.57 1087.22L36.67 1083.87L36.78 1080.53L36.9 1077.18L37.04 1073.84L37.18 1070.49L37.32 1067.14L37.47 1063.8L37.61 1060.45L37.75 1057.11L37.87 1053.76L37.99 1050.41L38.1 1047.07L38.2 1043.72L38.3 1040.37L38.4 1037.03L38.5 1033.68L38.6 1030.33L38.71 1026.99L38.81 1023.64L38.91 1020.29L39.01 1016.94L39.11 1013.6L39.21 1010.25L39.32 1006.9L39.45 1003.56L39.59 1000.21L39.78 996.87L40.02 993.53L40.29 990.19L40.56 986.85L40.81 983.52L41.04 980.17L41.27 976.83L41.51 973.49L41.76 970.15L42.04 966.82L42.35 963.48L42.71 960.16L43.12 956.83L43.55 953.51L43.98 950.19L44.39 946.87L44.79 943.54L45.18 940.22L45.59 936.89L46 933.57L46.44 930.25L46.9 926.93L47.38 923.62L47.88 920.31L48.4 917L48.65 915.67L48.91 914.34L49.19 913.02L49.47 911.7L49.77 910.39L50.08 909.07L50.41 907.77L50.75 906.46L51.1 905.16L51.46 903.86L51.84 902.56L52.24 901.26L52.64 899.97L53.06 898.69L53.49 897.4L53.92 896.13L54.37 894.86L54.83 893.59L55.3 892.33L55.78 891.06L56.28 889.8L56.79 888.54L57.32 887.29L57.86 886.05L58.42 884.81L58.99 883.59L59.58 882.38L60.18 881.18L60.81 880L61.46 878.82L62.14 877.66L62.86 876.5L63.6 875.36L64.36 874.23L65.15 873.13L65.96 872.05L66.8 871L67.66 869.99L68.57 868.99L69.52 868.02L70.5 867.07L71.49 866.15L72.5 865.25L73.52 864.37L74.55 863.49L75.6 862.63L76.66 861.79L77.75 860.97L78.84 860.18L79.96 859.42L81.09 858.71L82.24 858.02L83.41 857.36L84.6 856.72L85.81 856.11L87.03 855.51L88.26 854.94L89.5 854.38L90.74 853.84L91.97 853.32L93.22 852.81L94.48 852.32L95.75 851.85L97.02 851.39L98.3 850.94L99.58 850.51L100.87 850.1L102.15 849.7L103.44 849.31L104.74 848.94L106.04 848.58L107.35 848.23L108.66 847.89L109.97 847.56L111.28 847.23L112.59 846.91L113.9 846.59L115.21 846.28L116.53 845.97L117.85 845.68L119.17 845.39L120.49 845.11L121.81 844.84L123.13 844.58L124.46 844.32L125.79 844.07L127.11 843.82L128.44 843.59L129.78 843.37L131.11 843.16L132.44 842.97L133.78 842.79L135.12 842.62L136.46 842.47L137.8 842.32L139.15 842.17L140.49 842.02L141.83 841.87L143.17 841.7L144.51 841.54L145.85 841.36L147.19 841.19L148.53 841.02L149.87 840.84L151.21 840.67L152.55 840.51L153.89 840.34L155.23 840.17L156.57 840.01L157.91 839.84L159.25 839.68L160.59 839.53L161.93 839.39L163.27 839.25L164.62 839.13L165.96 839.01L167.31 838.9L168.65 838.8L170 838.7L302.3 833.1" fill="none" stroke="#ff0000" stroke-width="2.25" stroke-linejoin="round"/>
<g fill="#0000ff"><circle cx="35.7" cy="1113.9" r="1.95"/><circle cx="35.73" cy="1112.77" r="1.95"/><circle cx="35.76" cy="1111.64" r="1.95"/><circle cx="35.79" cy="1110.51" r="1.95"/><circle cx="35.82" cy="1109.38" r="1.95"/><circle cx="35.85" cy="1108.25" r="1.95"/><circle cx="35.87" cy="1107.12" r="1.95"/><circle cx="35.9" cy="1105.99" r="1.95"/><circle cx="35.93" cy="1104.86" r="1.95"/><circle cx="35.96" cy="1103.73" r="1.95"/><circle cx="36.05" cy="1100.34" r="1.95"/><circle cx="36.08" cy="1099.21" r="1.95"/><circle cx="36.11" cy="1098.08" r="1.95"/><circle cx="36.14" cy="1096.95" r="1.95"/><circle cx="36.17" cy="1095.82" r="1.95"/><circle cx="36.2" cy="1094.69" r="1.95"/><circle cx="36.22" cy="1093.56" r="1.95"/><circle cx="36.25" cy="1092.43" r="1.95"/><circle cx="36.28" cy="1091.3" r="1.95"/><circle cx="36.31" cy="1090.17" r="1.95"/><circle cx="36.34" cy="1089.04" r="1.95"/><circle cx="36.37" cy="1087.91" r="1.95"/><circle cx="36.4" cy="1086.78" r="1.95"/><circle cx="36.43" cy="1085.65" r="1.95"/><circle cx="36.46" cy="1084.52" r="1.95"/><circle cx="36.49" cy="1083.39" r="1.95"/><circle cx="36.52" cy="1082.26" r="1.95"/><circle cx="36.57" cy="1081.13" r="1.95"/><circle cx="36.61" cy="1080" r="1.95"/><circle cx="36.65" cy="1078.87" r="1.95"/><circle cx="36.69" cy="1077.74" r="1.95"/><circle cx="36.73" cy="1076.61" r="1.95"/><circle cx="36.78" cy="1075.48" r="1.95"/><circle cx="36.82" cy="1074.35" r="1.95"/><circle cx="36.86" cy="1073.22" r="1.95"/><circle cx="36.99" cy="1069.83" r="1.95"/><circle cx="37.03" cy="1068.7" r="1.95"/><circle cx="37.07" cy="1067.57" r="1.95"/><circle cx="37.11" cy="1066.44" r="1.95"/><circle cx="37.16" cy="1065.31" r="1.95"/><circle cx="37.2" cy="1064.18" r="1.95"/><circle cx="37.24" cy="1063.05" r="1.95"/><circle cx="37.28" cy="1061.92" r="1.95"/><circle cx="37.32" cy="1060.79" r="1.95"/><circle cx="37.37" cy="1059.66" r="1.95"/><circle cx="37.41" cy="1058.53" r="1.95"/><circle cx="37.45" cy="1057.4" r="1.95"/><circle cx="37.49" cy="1056.27" r="1.95"/><circle cx="37.54" cy="1055.14" r="1.95"/><circle cx="37.72" cy="1048.36" r="1.95"/><circle cx="37.75" cy="1047.23" r="1.95"/><circle cx="37.77" cy="1046.1" r="1.95"/><circle cx="37.8" cy="1044.97" r="1.95"/><circle cx="37.83" cy="1043.84" r="1.95"/><circle cx="37.85" cy="1042.71" r="1.95"/><circle cx="37.88" cy="1041.58" r="1.95"/><circle cx="37.91" cy="1040.45" r="1.95"/><circle cx="37.93" cy="1039.32" r="1.95"/><circle cx="37.96" cy="1038.19" r="1.95"/><circle cx="37.99" cy="1037.06" r="1.95"/><circle cx="38.01" cy="1035.93" r="1.95"/><circle cx="38.04" cy="1034.8" r="1.95"/><circle cx="38.07" cy="1033.67" r="1.95"/><circle cx="38.09" cy="1032.54" r="1.95"/><circle cx="38.12" cy="1031.41" r="1.95"/><circle cx="38.15" cy="1030.28" r="1.95"/><circle cx="38.17" cy="1029.15" r="1.95"/><circle cx="38.2" cy="1028.02" r="1.95"/><circle cx="38.23" cy="1026.89" r="1.95"/><circle cx="38.25" cy="1025.76" r="1.95"/><circle cx="38.28" cy="1024.63" r="1.95"/><circle cx="38.31" cy="1023.5" r="1.95"/><circle cx="38.33" cy="1022.37" r="1.95"/><circle cx="38.44" cy="1016.72" r="1.95"/><circle cx="38.47" cy="1015.59" r="1.95"/><circle cx="38.49" cy="1014.46" r="1.95"/><circle cx="38.51" cy="1013.33" r="1.95"/><circle cx="38.54" cy="1012.2" r="1.95"/><circle cx="38.56" cy="1011.07" r="1.95"/><circle cx="38.58" cy="1009.94" r="1.95"/><circle cx="38.61" cy="1008.81" r="1.95"/><circle cx="38.64" cy="1007.68" r="1.95"/><circle cx="38.68" cy="1006.55" r="1.95"/><circle cx="38.71" cy="1005.42" r="1.95"/><circle cx="38.75" cy="1004.29" r="1.95"/><circle cx="38.78" cy="1003.16" r="1.95"/><circle cx="38.82" cy="1002.03" r="1.95"/><circle cx="38.86" cy="1000.9" r="1.95"/><circle cx="38.89" cy="999.77" r="1.95"/><circle cx="38.93" cy="998.64" r="1.95"/><circle cx="38.96" cy="997.51" r="1.95"/><circle cx="39" cy="996.38" r="1.95"/><circle cx="39.04" cy="995.25" r="1.95"/><circle cx="39.07" cy="994.12" r="1.95"/><circle cx="39.11" cy="992.99" r="1.95"/><circle cx="39.14" cy="991.86" r="1.95"/><circle cx="39.18" cy="990.73" r="1.95"/><circle cx="39.21" cy="989.6" r="1.95"/><circle cx="39.25" cy="988.47" r="1.95"/><circle cx="39.29" cy="987.34" r="1.95"/><circle cx="39.34" cy="986.21" r="1.95"/><circle cx="39.41" cy="985.08" r="1.95"/><circle cx="39.48" cy="983.95" r="1.95"/><circle cx="39.56" cy="982.82" r="1.95"/><circle cx="39.63" cy="981.69" r="1.95"/><circle cx="39.7" cy="980.56" r="1.95"/><circle cx="39.77" cy="979.43" r="1.95"/><circle cx="39.84" cy="978.3" r="1.95"/><circle cx="39.91" cy="977.17" r="1.95"/><circle cx="39.98" cy="976.04" r="1.95"/><circle cx="40.05" cy="974.91" r="1.95"/><circle cx="40.12" cy="973.78" r="1.95"/><circle cx="40.19" cy="972.65" r="1.95"/><circle cx="40.26" cy="971.52" r="1.95"/><circle cx="40.33" cy="970.39" r="1.95"/><circle cx="40.4" cy="969.26" r="1.95"/><circle cx="40.47" cy="968.13" r="1.95"/><circle cx="40.54" cy="967" r="1.95"/><circle cx="40.61" cy="965.87" r="1.95"/><circle cx="40.67" cy="964.74" r="1.95"/><circle cx="40.74" cy="963.61" r="1.95"/><circle cx="40.81" cy="962.48" r="1.95"/><circle cx="40.87" cy="961.35" r="1.95"/><circle cx="40.94" cy="960.22" r="1.95"/><circle cx="41.01" cy="959.09" r="1.95"/><circle cx="41.07" cy="957.96" r="1.95"/><circle cx="41.14" cy="956.83" r="1.95"/><circle cx="41.21" cy="955.7" r="1.95"/><circle cx="41.35" cy="954.57" r="1.95"/><circle cx="41.49" cy="953.44" r="1.95"/><circle cx="41.63" cy="952.31" r="1.95"/><circle cx="41.76" cy="951.18" r="1.95"/><circle cx="41.9" cy="950.05" r="1.95"/><circle cx="42.04" cy="948.92" r="1.95"/><circle cx="42.18" cy="947.79" r="1.95"/><circle cx="42.31" cy="946.66" r="1.95"/><circle cx="42.45" cy="945.53" r="1.95"/><circle cx="42.59" cy="944.4" r="1.95"/><circle cx="42.74" cy="943.27" r="1.95"/><circle cx="42.91" cy="942.14" r="1.95"/><circle cx="43.09" cy="941.01" r="1.95"/><circle cx="43.27" cy="939.88" r="1.95"/><circle cx="43.45" cy="938.75" r="1.95"/><circle cx="43.62" cy="937.62" r="1.95"/><circle cx="43.8" cy="936.49" r="1.95"/><circle cx="43.98" cy="935.36" r="1.95"/><circle cx="44.15" cy="934.23" r="1.95"/><circle cx="44.35" cy="933.1" r="1.95"/><circle cx="44.62" cy="931.97" r="1.95"/><circle cx="44.9" cy="930.84" r="1.95"/><circle cx="45.18" cy="929.71" r="1.95"/><circle cx="45.45" cy="928.58" r="1.95"/><circle cx="45.73" cy="927.45" r="1.95"/><circle cx="46" cy="926.32" r="1.95"/><circle cx="46.28" cy="925.19" r="1.95"/><circle cx="46.67" cy="924.06" r="1.95"/><circle cx="47.06" cy="922.93" r="1.95"/><circle cx="47.46" cy="921.8" r="1.95"/><circle cx="47.86" cy="920.67" r="1.95"/><circle cx="48.26" cy="919.54" r="1.95"/><circle cx="48.66" cy="918.41" r="1.95"/><circle cx="49.27" cy="917.28" r="1.95"/><circle cx="50.02" cy="916.15" r="1.95"/><circle cx="50.76" cy="915.02" r="1.95"/><circle cx="51.51" cy="913.89" r="1.95"/><circle cx="52.48" cy="912.76" r="1.95"/><circle cx="53.45" cy="911.63" r="1.95"/><circle cx="54.41" cy="910.5" r="1.95"/><circle cx="55.73" cy="909.37" r="1.95"/><circle cx="57.08" cy="908.24" r="1.95"/><circle cx="58.02" cy="907.11" r="1.95"/><circle cx="58.71" cy="905.98" r="1.95"/><circle cx="59.39" cy="904.85" r="1.95"/><circle cx="60.08" cy="903.72" r="1.95"/><circle cx="60.76" cy="902.59" r="1.95"/><circle cx="61.43" cy="901.46" r="1.95"/><circle cx="62.09" cy="900.33" r="1.95"/><circle cx="62.76" cy="899.2" r="1.95"/><circle cx="63.42" cy="898.07" r="1.95"/><circle cx="64.03" cy="896.94" r="1.95"/><circle cx="64.6" cy="895.81" r="1.95"/><circle cx="65.16" cy="894.68" r="1.95"/><circle cx="65.73" cy="893.55" r="1.95"/><circle cx="66.29" cy="892.42" r="1.95"/><circle cx="66.88" cy="891.29" r="1.95"/><circle cx="67.74" cy="890.16" r="1.95"/><circle cx="68.59" cy="889.03" r="1.95"/><circle cx="69.45" cy="887.9" r="1.95"/><circle cx="70.96" cy="886.77" r="1.95"/><circle cx="73.22" cy="885.64" r="1.95"/><circle cx="75.22" cy="884.51" r="1.95"/><circle cx="77.1" cy="883.38" r="1.95"/><circle cx="77.78" cy="882.25" r="1.95"/><circle cx="78.23" cy="881.12" r="1.95"/><circle cx="78.68" cy="879.99" r="1.95"/><circle cx="79.39" cy="878.86" r="1.95"/><circle cx="80.69" cy="877.73" r="1.95"/><circle cx="81.99" cy="876.6" r="1.95"/><circle cx="85.12" cy="875.47" r="1.95"/><circle cx="87.32" cy="874.34" r="1.95"/><circle cx="88.99" cy="873.21" r="1.95"/><circle cx="89.97" cy="872.08" r="1.95"/><circle cx="90.8" cy="870.95" r="1.95"/><circle cx="91.63" cy="869.82" r="1.95"/><circle cx="92.59" cy="868.69" r="1.95"/><circle cx="94.13" cy="867.56" r="1.95"/><circle cx="95.68" cy="866.43" r="1.95"/><circle cx="97.19" cy="865.3" r="1.95"/><circle cx="98.69" cy="864.17" r="1.95"/><circle cx="100.18" cy="863.04" r="1.95"/><circle cx="101.39" cy="861.91" r="1.95"/><circle cx="102.52" cy="860.78" r="1.95"/><circle cx="103.65" cy="859.65" r="1.95"/><circle cx="104.69" cy="858.52" r="1.95"/><circle cx="105.24" cy="857.39" r="1.95"/><circle cx="105.79" cy="856.26" r="1.95"/><circle cx="106.34" cy="855.13" r="1.95"/><circle cx="107.93" cy="854" r="1.95"/><circle cx="110.32" cy="852.87" r="1.95"/><circle cx="112.46" cy="851.74" r="1.95"/><circle cx="114.59" cy="850.61" r="1.95"/><circle cx="116.19" cy="849.48" r="1.95"/><circle cx="117.74" cy="848.35" r="1.95"/><circle cx="119.22" cy="847.22" r="1.95"/><circle cx="120.52" cy="846.09" r="1.95"/><circle cx="121.82" cy="844.96" r="1.95"/><circle cx="122" cy="844.8" r="1.95"/><circle cx="126.1" cy="843.5" r="1.95"/><circle cx="131.2" cy="841.4" r="1.95"/><circle cx="132.7" cy="840.5" r="1.95"/><circle cx="134.3" cy="839.6" r="1.95"/><circle cx="136.2" cy="838.7" r="1.95"/><circle cx="137.9" cy="837.7" r="1.95"/><circle cx="156.7" cy="835.3" r="1.95"/><circle cx="158.8" cy="834.2" r="1.95"/><circle cx="160.8" cy="833.2" r="1.95"/><circle cx="302.5" cy="832.6" r="1.95"/></g>
<rect x="204" y="1068.5" width="92" height="32.6" fill="#fff" stroke="#5a5a5a" stroke-width="1.1"/>
<path d="M207.5 1077.2H241.2" stroke="#ff0000" stroke-width="2.35"/>
<circle cx="224.2" cy="1092.5" r="2.3" fill="#0000ff"/>
<text x="244.6" y="1081.7" font-family='"Liberation Serif", serif' font-size="11.8" font-weight="bold" text-anchor="start" fill="#1a1a1a" textLength="27.5" lengthAdjust="spacingAndGlyphs">Fitted</text>
<text x="244.6" y="1096.6" font-family='"Liberation Serif", serif' font-size="11.8" font-weight="bold" text-anchor="start" fill="#1a1a1a" textLength="47.8" lengthAdjust="spacingAndGlyphs">Empirical</text>
<text x="170.2" y="825.6" font-family='"Liberation Serif", serif' font-size="13.9" font-weight="bold" text-anchor="middle" fill="#0a0a0a" textLength="125.2" lengthAdjust="spacingAndGlyphs">Marginal distribution</text>
<text x="170" y="1150" font-family='"Liberation Serif", serif' font-size="13.9" font-weight="bold" text-anchor="middle" fill="#1a1a1a" textLength="66.6" lengthAdjust="spacingAndGlyphs">Streamflow</text>
<text x="0" y="0" transform="translate(9.2 973.2) rotate(-90)" font-family='"Liberation Serif", serif' font-size="13.4" font-weight="bold" text-anchor="middle" fill="#1a1a1a" textLength="69.4" lengthAdjust="spacing">Probability</text>
<rect x="414.8" y="828.4" width="269" height="284.4" fill="#fff" stroke="#5a5a5a" stroke-width="1.15"/>
<text x="414.8" y="1130.2" font-family='"Liberation Sans", sans-serif' font-size="12.6" text-anchor="middle" fill="#333333" textLength="6.57" lengthAdjust="spacingAndGlyphs">0</text>
<text x="468.6" y="1130.2" font-family='"Liberation Sans", sans-serif' font-size="12.6" text-anchor="middle" fill="#333333" textLength="16.41" lengthAdjust="spacingAndGlyphs">0.2</text>
<text x="522.4" y="1130.2" font-family='"Liberation Sans", sans-serif' font-size="12.6" text-anchor="middle" fill="#333333" textLength="16.41" lengthAdjust="spacingAndGlyphs">0.4</text>
<text x="576.2" y="1130.2" font-family='"Liberation Sans", sans-serif' font-size="12.6" text-anchor="middle" fill="#333333" textLength="16.41" lengthAdjust="spacingAndGlyphs">0.6</text>
<text x="630" y="1130.2" font-family='"Liberation Sans", sans-serif' font-size="12.6" text-anchor="middle" fill="#333333" textLength="16.41" lengthAdjust="spacingAndGlyphs">0.8</text>
<text x="683.8" y="1130.2" font-family='"Liberation Sans", sans-serif' font-size="12.6" text-anchor="middle" fill="#333333" textLength="6.57" lengthAdjust="spacingAndGlyphs">1</text>
<text x="408.8" y="1117.91" font-family='"Liberation Sans", sans-serif' font-size="12.6" text-anchor="end" fill="#333333" textLength="6.57" lengthAdjust="spacingAndGlyphs">0</text>
<text x="408.8" y="1089.47" font-family='"Liberation Sans", sans-serif' font-size="12.6" text-anchor="end" fill="#333333" textLength="16.41" lengthAdjust="spacingAndGlyphs">0.1</text>
<text x="408.8" y="1061.03" font-family='"Liberation Sans", sans-serif' font-size="12.6" text-anchor="end" fill="#333333" textLength="16.41" lengthAdjust="spacingAndGlyphs">0.2</text>
<text x="408.8" y="1032.59" font-family='"Liberation Sans", sans-serif' font-size="12.6" text-anchor="end" fill="#333333" textLength="16.41" lengthAdjust="spacingAndGlyphs">0.3</text>
<text x="408.8" y="1004.15" font-family='"Liberation Sans", sans-serif' font-size="12.6" text-anchor="end" fill="#333333" textLength="16.41" lengthAdjust="spacingAndGlyphs">0.4</text>
<text x="408.8" y="975.71" font-family='"Liberation Sans", sans-serif' font-size="12.6" text-anchor="end" fill="#333333" textLength="16.41" lengthAdjust="spacingAndGlyphs">0.5</text>
<text x="408.8" y="947.27" font-family='"Liberation Sans", sans-serif' font-size="12.6" text-anchor="end" fill="#333333" textLength="16.41" lengthAdjust="spacingAndGlyphs">0.6</text>
<text x="408.8" y="918.83" font-family='"Liberation Sans", sans-serif' font-size="12.6" text-anchor="end" fill="#333333" textLength="16.41" lengthAdjust="spacingAndGlyphs">0.7</text>
<text x="408.8" y="890.39" font-family='"Liberation Sans", sans-serif' font-size="12.6" text-anchor="end" fill="#333333" textLength="16.41" lengthAdjust="spacingAndGlyphs">0.8</text>
<text x="408.8" y="861.95" font-family='"Liberation Sans", sans-serif' font-size="12.6" text-anchor="end" fill="#333333" textLength="16.41" lengthAdjust="spacingAndGlyphs">0.9</text>
<text x="408.8" y="833.51" font-family='"Liberation Sans", sans-serif' font-size="12.6" text-anchor="end" fill="#333333" textLength="6.57" lengthAdjust="spacingAndGlyphs">1</text>
<path d="M468.6 1112.8v-2.8M468.6 828.4v2.8M522.4 1112.8v-2.8M522.4 828.4v2.8M576.2 1112.8v-2.8M576.2 828.4v2.8M630 1112.8v-2.8M630 828.4v2.8M414.8 1084.36h2.8M683.8 1084.36h-2.8M414.8 1055.92h2.8M683.8 1055.92h-2.8M414.8 1027.48h2.8M683.8 1027.48h-2.8M414.8 999.04h2.8M683.8 999.04h-2.8M414.8 970.6h2.8M683.8 970.6h-2.8M414.8 942.16h2.8M683.8 942.16h-2.8M414.8 913.72h2.8M683.8 913.72h-2.8M414.8 885.28h2.8M683.8 885.28h-2.8M414.8 856.84h2.8M683.8 856.84h-2.8" stroke="#5a5a5a" stroke-width="1" fill="none"/>
<path d="M415.6 1091L681.8 858" fill="none" stroke="#ff0000" stroke-width="2.5" stroke-linejoin="round" stroke-dasharray="11 1.4 3.8 1.4"/>
<path d="M468.84 1044.4L636.55 897.61" fill="none" stroke="#ff0000" stroke-width="2.45" stroke-linejoin="round"/>
<g fill="#0000ff"><circle cx="415.7" cy="1111.4" r="2.15"/><circle cx="416.55" cy="1110.27" r="2.15"/><circle cx="417.4" cy="1109.14" r="2.15"/><circle cx="417.8" cy="1108.6" r="2.15"/><circle cx="428" cy="1105.9" r="2.15"/><circle cx="429.13" cy="1104.77" r="2.15"/><circle cx="430.26" cy="1103.64" r="2.15"/><circle cx="431.16" cy="1102.51" r="2.15"/><circle cx="431.38" cy="1101.38" r="2.15"/><circle cx="431.6" cy="1100.25" r="2.15"/><circle cx="431.82" cy="1099.12" r="2.15"/><circle cx="432.04" cy="1097.99" r="2.15"/><circle cx="433.05" cy="1096.86" r="2.15"/><circle cx="434.33" cy="1095.73" r="2.15"/><circle cx="435.65" cy="1094.6" r="2.15"/><circle cx="437.37" cy="1093.47" r="2.15"/><circle cx="439.08" cy="1092.34" r="2.15"/><circle cx="440.21" cy="1091.21" r="2.15"/><circle cx="441.08" cy="1090.08" r="2.15"/><circle cx="441.95" cy="1088.95" r="2.15"/><circle cx="442.47" cy="1087.82" r="2.15"/><circle cx="442.74" cy="1086.69" r="2.15"/><circle cx="443.02" cy="1085.56" r="2.15"/><circle cx="443.29" cy="1084.43" r="2.15"/><circle cx="444.58" cy="1083.3" r="2.15"/><circle cx="445.9" cy="1082.17" r="2.15"/><circle cx="446.94" cy="1081.04" r="2.15"/><circle cx="447.38" cy="1079.91" r="2.15"/><circle cx="447.82" cy="1078.78" r="2.15"/><circle cx="448.26" cy="1077.65" r="2.15"/><circle cx="449.03" cy="1076.52" r="2.15"/><circle cx="449.94" cy="1075.39" r="2.15"/><circle cx="450.85" cy="1074.26" r="2.15"/><circle cx="451.4" cy="1073.13" r="2.15"/><circle cx="451.94" cy="1072" r="2.15"/><circle cx="452.47" cy="1070.87" r="2.15"/><circle cx="452.5" cy="1070.8" r="2.15"/><circle cx="457.4" cy="1066.1" r="2.15"/><circle cx="457.84" cy="1064.97" r="2.15"/><circle cx="458.28" cy="1063.84" r="2.15"/><circle cx="458.72" cy="1062.71" r="2.15"/><circle cx="459.62" cy="1061.58" r="2.15"/><circle cx="461.29" cy="1060.45" r="2.15"/><circle cx="463.12" cy="1059.32" r="2.15"/><circle cx="465.73" cy="1058.19" r="2.15"/><circle cx="466.48" cy="1057.06" r="2.15"/><circle cx="466.59" cy="1055.93" r="2.15"/><circle cx="466.7" cy="1054.8" r="2.15"/><circle cx="466.8" cy="1053.8" r="2.15"/><circle cx="470.9" cy="1044.6" r="2.15"/><circle cx="471.29" cy="1043.47" r="2.15"/><circle cx="471.67" cy="1042.34" r="2.15"/><circle cx="472.06" cy="1041.21" r="2.15"/><circle cx="472.72" cy="1040.08" r="2.15"/><circle cx="473.85" cy="1038.95" r="2.15"/><circle cx="474.98" cy="1037.82" r="2.15"/><circle cx="476.31" cy="1036.69" r="2.15"/><circle cx="478.18" cy="1035.56" r="2.15"/><circle cx="480.05" cy="1034.43" r="2.15"/><circle cx="480.58" cy="1033.3" r="2.15"/><circle cx="481.08" cy="1032.17" r="2.15"/><circle cx="481.58" cy="1031.04" r="2.15"/><circle cx="482.01" cy="1029.91" r="2.15"/><circle cx="482.32" cy="1028.78" r="2.15"/><circle cx="482.64" cy="1027.65" r="2.15"/><circle cx="482.95" cy="1026.52" r="2.15"/><circle cx="483.27" cy="1025.39" r="2.15"/><circle cx="483.58" cy="1024.26" r="2.15"/><circle cx="484.17" cy="1023.13" r="2.15"/><circle cx="484.77" cy="1022" r="2.15"/><circle cx="485.38" cy="1020.87" r="2.15"/><circle cx="485.98" cy="1019.74" r="2.15"/><circle cx="486" cy="1019.7" r="2.15"/><circle cx="487.3" cy="1012.9" r="2.15"/><circle cx="490.97" cy="1011.77" r="2.15"/><circle cx="493.28" cy="1010.64" r="2.15"/><circle cx="495" cy="1009.51" r="2.15"/><circle cx="495.59" cy="1008.38" r="2.15"/><circle cx="496.18" cy="1007.25" r="2.15"/><circle cx="496.76" cy="1006.12" r="2.15"/><circle cx="497.35" cy="1004.99" r="2.15"/><circle cx="498.34" cy="1003.86" r="2.15"/><circle cx="499.47" cy="1002.73" r="2.15"/><circle cx="500.6" cy="1001.6" r="2.15"/><circle cx="501.73" cy="1000.47" r="2.15"/><circle cx="503.22" cy="999.34" r="2.15"/><circle cx="504.82" cy="998.21" r="2.15"/><circle cx="506.42" cy="997.08" r="2.15"/><circle cx="507.61" cy="995.95" r="2.15"/><circle cx="508.48" cy="994.82" r="2.15"/><circle cx="509.36" cy="993.69" r="2.15"/><circle cx="510.24" cy="992.56" r="2.15"/><circle cx="511.11" cy="991.43" r="2.15"/><circle cx="511.98" cy="990.3" r="2.15"/><circle cx="512.84" cy="989.17" r="2.15"/><circle cx="513.71" cy="988.04" r="2.15"/><circle cx="514.4" cy="986.91" r="2.15"/><circle cx="514.87" cy="985.78" r="2.15"/><circle cx="515.33" cy="984.65" r="2.15"/><circle cx="515.8" cy="983.52" r="2.15"/><circle cx="516.26" cy="982.39" r="2.15"/><circle cx="516.86" cy="981.26" r="2.15"/><circle cx="517.47" cy="980.13" r="2.15"/><circle cx="518.08" cy="979" r="2.15"/><circle cx="519.21" cy="977.87" r="2.15"/><circle cx="520.61" cy="976.74" r="2.15"/><circle cx="522.02" cy="975.61" r="2.15"/><circle cx="523.46" cy="974.48" r="2.15"/><circle cx="526.77" cy="973.35" r="2.15"/><circle cx="530.43" cy="972.22" r="2.15"/><circle cx="532.5" cy="971.09" r="2.15"/><circle cx="534.45" cy="969.96" r="2.15"/><circle cx="536.11" cy="968.83" r="2.15"/><circle cx="537.78" cy="967.7" r="2.15"/><circle cx="539.27" cy="966.57" r="2.15"/><circle cx="540.1" cy="965.44" r="2.15"/><circle cx="540.93" cy="964.31" r="2.15"/><circle cx="541.75" cy="963.18" r="2.15"/><circle cx="542.65" cy="962.05" r="2.15"/><circle cx="543.78" cy="960.92" r="2.15"/><circle cx="544.91" cy="959.79" r="2.15"/><circle cx="546.09" cy="958.66" r="2.15"/><circle cx="547.46" cy="957.53" r="2.15"/><circle cx="548.83" cy="956.4" r="2.15"/><circle cx="550.19" cy="955.27" r="2.15"/><circle cx="551.49" cy="954.14" r="2.15"/><circle cx="552.77" cy="953.01" r="2.15"/><circle cx="554.14" cy="951.88" r="2.15"/><circle cx="555.89" cy="950.75" r="2.15"/><circle cx="557.65" cy="949.62" r="2.15"/><circle cx="559.48" cy="948.49" r="2.15"/><circle cx="561.37" cy="947.36" r="2.15"/><circle cx="563.04" cy="946.23" r="2.15"/><circle cx="564.02" cy="945.1" r="2.15"/><circle cx="565.01" cy="943.97" r="2.15"/><circle cx="565.99" cy="942.84" r="2.15"/><circle cx="567.8" cy="941.71" r="2.15"/><circle cx="569.84" cy="940.58" r="2.15"/><circle cx="571.14" cy="939.45" r="2.15"/><circle cx="571.91" cy="938.32" r="2.15"/><circle cx="572.68" cy="937.19" r="2.15"/><circle cx="573.45" cy="936.06" r="2.15"/><circle cx="574.39" cy="934.93" r="2.15"/><circle cx="576.31" cy="933.8" r="2.15"/><circle cx="578.24" cy="932.67" r="2.15"/><circle cx="579.84" cy="931.54" r="2.15"/><circle cx="581.33" cy="930.41" r="2.15"/><circle cx="582.69" cy="929.28" r="2.15"/><circle cx="583.94" cy="928.15" r="2.15"/><circle cx="585" cy="927.2" r="2.15"/><circle cx="591.1" cy="925.4" r="2.15"/><circle cx="592.44" cy="924.27" r="2.15"/><circle cx="593.78" cy="923.14" r="2.15"/><circle cx="595.11" cy="922.01" r="2.15"/><circle cx="595.6" cy="921.6" r="2.15"/><circle cx="602.4" cy="918.2" r="2.15"/><circle cx="603" cy="917.07" r="2.15"/><circle cx="603.6" cy="915.94" r="2.15"/><circle cx="604.19" cy="914.81" r="2.15"/><circle cx="604.2" cy="914.8" r="2.15"/><circle cx="613.3" cy="913" r="2.15"/><circle cx="614.64" cy="911.87" r="2.15"/><circle cx="615.98" cy="910.74" r="2.15"/><circle cx="617.65" cy="909.61" r="2.15"/><circle cx="620.91" cy="908.48" r="2.15"/><circle cx="622.3" cy="908" r="2.15"/><circle cx="628.4" cy="905.7" r="2.15"/><circle cx="629.7" cy="904.57" r="2.15"/><circle cx="631" cy="903.44" r="2.15"/><circle cx="632.3" cy="902.31" r="2.15"/><circle cx="633.6" cy="901.18" r="2.15"/><circle cx="634.9" cy="900.05" r="2.15"/><circle cx="636.21" cy="898.92" r="2.15"/><circle cx="637.51" cy="897.79" r="2.15"/><circle cx="638.19" cy="896.66" r="2.15"/><circle cx="638.88" cy="895.53" r="2.15"/><circle cx="639.56" cy="894.4" r="2.15"/><circle cx="640.25" cy="893.27" r="2.15"/><circle cx="640.94" cy="892.14" r="2.15"/><circle cx="641.65" cy="891.01" r="2.15"/><circle cx="642.36" cy="889.88" r="2.15"/><circle cx="643.07" cy="888.75" r="2.15"/><circle cx="643.79" cy="887.62" r="2.15"/><circle cx="644.68" cy="886.49" r="2.15"/><circle cx="645.58" cy="885.36" r="2.15"/><circle cx="646.48" cy="884.23" r="2.15"/><circle cx="647.99" cy="883.1" r="2.15"/><circle cx="649.52" cy="881.97" r="2.15"/><circle cx="651.05" cy="880.84" r="2.15"/><circle cx="651.59" cy="879.71" r="2.15"/><circle cx="652.1" cy="878.58" r="2.15"/><circle cx="652.6" cy="877.45" r="2.15"/><circle cx="653.11" cy="876.32" r="2.15"/><circle cx="654.18" cy="875.19" r="2.15"/><circle cx="655.59" cy="874.06" r="2.15"/><circle cx="656.99" cy="872.93" r="2.15"/><circle cx="658.04" cy="871.8" r="2.15"/><circle cx="658.45" cy="870.67" r="2.15"/><circle cx="658.86" cy="869.54" r="2.15"/><circle cx="659.27" cy="868.41" r="2.15"/><circle cx="659.67" cy="867.28" r="2.15"/><circle cx="660.08" cy="866.15" r="2.15"/><circle cx="660.64" cy="865.02" r="2.15"/><circle cx="661.2" cy="863.89" r="2.15"/><circle cx="661.77" cy="862.76" r="2.15"/><circle cx="662.33" cy="861.63" r="2.15"/><circle cx="662.9" cy="860.5" r="2.15"/><circle cx="663.46" cy="859.37" r="2.15"/><circle cx="663.86" cy="858.24" r="2.15"/><circle cx="664.24" cy="857.11" r="2.15"/><circle cx="664.62" cy="855.98" r="2.15"/><circle cx="665.01" cy="854.85" r="2.15"/><circle cx="665.39" cy="853.72" r="2.15"/><circle cx="665.77" cy="852.59" r="2.15"/><circle cx="666.14" cy="851.46" r="2.15"/><circle cx="666.51" cy="850.33" r="2.15"/><circle cx="666.88" cy="849.2" r="2.15"/><circle cx="667.25" cy="848.07" r="2.15"/><circle cx="667.63" cy="846.94" r="2.15"/><circle cx="668" cy="845.81" r="2.15"/><circle cx="668.46" cy="844.68" r="2.15"/><circle cx="668.93" cy="843.55" r="2.15"/><circle cx="669.39" cy="842.42" r="2.15"/><circle cx="669.86" cy="841.29" r="2.15"/><circle cx="670.32" cy="840.16" r="2.15"/><circle cx="670.79" cy="839.03" r="2.15"/><circle cx="671.32" cy="837.9" r="2.15"/><circle cx="671.86" cy="836.77" r="2.15"/><circle cx="672.4" cy="835.64" r="2.15"/><circle cx="672.93" cy="834.51" r="2.15"/><circle cx="673.47" cy="833.38" r="2.15"/><circle cx="674.2" cy="832.25" r="2.15"/><circle cx="675.06" cy="831.12" r="2.15"/><circle cx="675.93" cy="829.99" r="2.15"/><circle cx="676" cy="829.9" r="2.15"/><circle cx="681.6" cy="829.5" r="2.15"/></g>
<text x="548.7" y="823" font-family='"Liberation Serif", serif' font-size="13.9" font-weight="bold" text-anchor="middle" fill="#0a0a0a" textLength="47.4" lengthAdjust="spacingAndGlyphs">QQ plot</text>
<text x="548.9" y="1147.8" font-family='"Liberation Serif", serif' font-size="13.9" font-weight="bold" text-anchor="middle" fill="#1a1a1a" textLength="102.2" lengthAdjust="spacingAndGlyphs">Fitted probability</text>
<text x="0" y="0" transform="translate(387.4 970.5) rotate(-90)" font-family='"Liberation Serif", serif' font-size="13.8" font-weight="bold" text-anchor="middle" fill="#1a1a1a" textLength="133.6" lengthAdjust="spacing">Empirical probability</text>
<text x="336.2" y="11.9" font-family='"Liberation Serif", serif' font-size="16.3" font-weight="bold" text-anchor="middle" fill="#0a0a0a" textLength="104.4" lengthAdjust="spacingAndGlyphs">Avşar Station</text>
<text x="367.7" y="396.5" font-family='"Liberation Serif", serif' font-size="16.3" font-weight="bold" text-anchor="middle" fill="#0a0a0a" textLength="102.4" lengthAdjust="spacingAndGlyphs">Avşar Station</text>
<text x="347.3" y="795" font-family='"Liberation Serif", serif' font-size="16.2" font-weight="bold" text-anchor="middle" fill="#0a0a0a" textLength="119.2" lengthAdjust="spacingAndGlyphs">Bulakbaşı Station</text>
</g>
</svg>
</body>
</html>
